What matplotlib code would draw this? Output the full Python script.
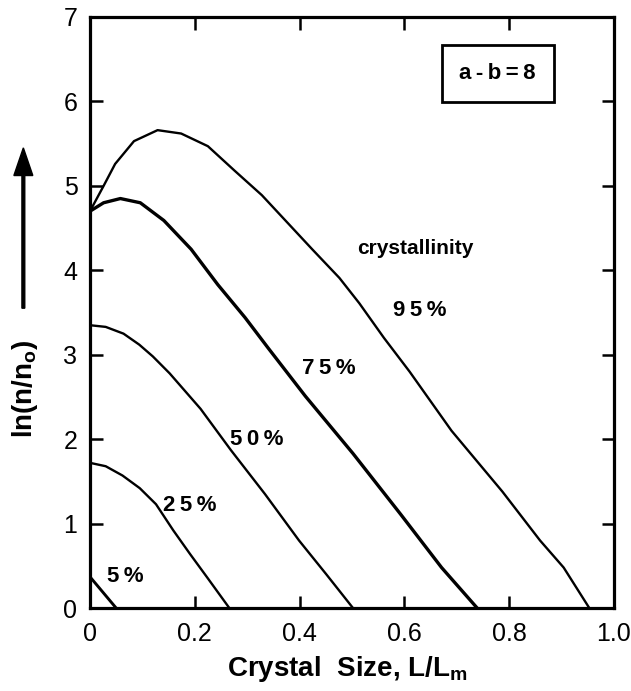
import matplotlib
matplotlib.use("Agg")
import matplotlib.pyplot as plt
from matplotlib.patches import FancyArrow

plt.rcParams["font.family"] = ["Liberation Sans", "DejaVu Sans"]
plt.rcParams["mathtext.fontset"] = "custom"
plt.rcParams["mathtext.rm"] = "Liberation Sans"
plt.rcParams["mathtext.bf"] = "Liberation Sans:bold"

# ln(n/no) against reduced crystal size for each crystallinity level
x_5 = [0.0, 0.05]
y_5 = [0.37, 0.0]

x_25 = [0.0, 0.03, 0.062, 0.095, 0.126, 0.159, 0.191, 0.224, 0.245, 0.266]
y_25 = [1.72, 1.68, 1.57, 1.42, 1.23, 0.92, 0.64, 0.36, 0.18, 0.0]

x_50 = [0.0, 0.03, 0.064, 0.094, 0.12, 0.152, 0.211, 0.269, 0.334, 0.399, 0.451, 0.502]
y_50 = [3.35, 3.33, 3.25, 3.12, 2.98, 2.78, 2.36, 1.87, 1.35, 0.80, 0.40, 0.0]

x_75 = [0.0, 0.026, 0.058, 0.096, 0.141, 0.193, 0.244, 0.296, 0.34, 0.411, 0.502, 0.593, 0.671, 0.739]
y_75 = [4.70, 4.80, 4.85, 4.80, 4.59, 4.25, 3.83, 3.44, 3.08, 2.51, 1.83, 1.11, 0.48, 0.0]

x_95 = [0.0, 0.026, 0.048, 0.084, 0.129, 0.174, 0.225, 0.276, 0.328, 0.379, 0.424,
        0.476, 0.514, 0.561, 0.61, 0.69, 0.787, 0.859, 0.904, 0.953]
y_95 = [4.70, 5.0, 5.26, 5.53, 5.66, 5.62, 5.47, 5.18, 4.89, 4.55, 4.25,
        3.91, 3.61, 3.20, 2.80, 2.10, 1.38, 0.80, 0.48, 0.0]

curve_labels = ["5\u2009%", "2\u20095\u2009%", "5\u20090\u2009%", "7\u20095\u2009%", "9\u20095\u2009%"]
label_x = [0.068, 0.19, 0.318, 0.455, 0.63]
label_y = [0.37, 1.21, 2.0, 2.84, 3.52]

x_ticks = [0, 0.2, 0.4, 0.6, 0.8, 1.0]
x_ticklabels = ["0", "0.2", "0.4", "0.6", "0.8", "1.0"]
y_ticks = [0, 1, 2, 3, 4, 5, 6, 7]

fig = plt.figure(figsize=(6.31, 6.91), dpi=100)
ax = fig.add_axes([0.1426, 0.120, 0.8304, 0.8554])

ax.plot(x_5, y_5, color="black", lw=2.1)
ax.plot(x_25, y_25, color="black", lw=1.7)
ax.plot(x_50, y_50, color="black", lw=1.7)
ax.plot(x_75, y_75, color="black", lw=2.4)
ax.plot(x_95, y_95, color="black", lw=1.7)

for txt, lx, ly in zip(curve_labels, label_x, label_y):
    ax.text(lx, ly, txt, ha="center", va="center", fontsize=16, fontweight="bold")

ax.text(0.62, 4.26, "crystallinity", ha="center", va="center", fontsize=15, fontweight="bold")

ax.text(0.778, 0.904, "a\u2009-\u2009b\u2009=\u20098", transform=ax.transAxes,
        ha="center", va="center", fontsize=16, fontweight="bold",
        bbox=dict(boxstyle="square,pad=0.8", facecolor="white", edgecolor="black", lw=2.0))

ax.set_xlim(0, 1.0)
ax.set_ylim(0, 7)
ax.set_xticks(x_ticks)
ax.set_xticklabels(x_ticklabels)
ax.set_yticks(y_ticks)
ax.tick_params(direction="in", length=9, width=1.8, labelsize=18, pad=9,
               top=True, right=True)
ax.tick_params(axis="x", pad=10)
for side in ax.spines.values():
    side.set_linewidth(2.3)

fig.text(0.55, 0.032, r"Crystal  Size, L/L$_\mathbf{m}$", ha="center", va="center",
         fontsize=20, fontweight="bold")
fig.text(0.040, 0.437, r"ln(n/n$_\mathbf{o}$)", rotation=90, ha="center", va="center",
         fontsize=20, fontweight="bold")
fig.patches.append(FancyArrow(
    0.037, 0.554, 0, 0.232, width=0.0045, head_width=0.030, head_length=0.040,
    length_includes_head=True, color="black", transform=fig.transFigure, figure=fig))

fig.savefig("out.png", dpi=100)
